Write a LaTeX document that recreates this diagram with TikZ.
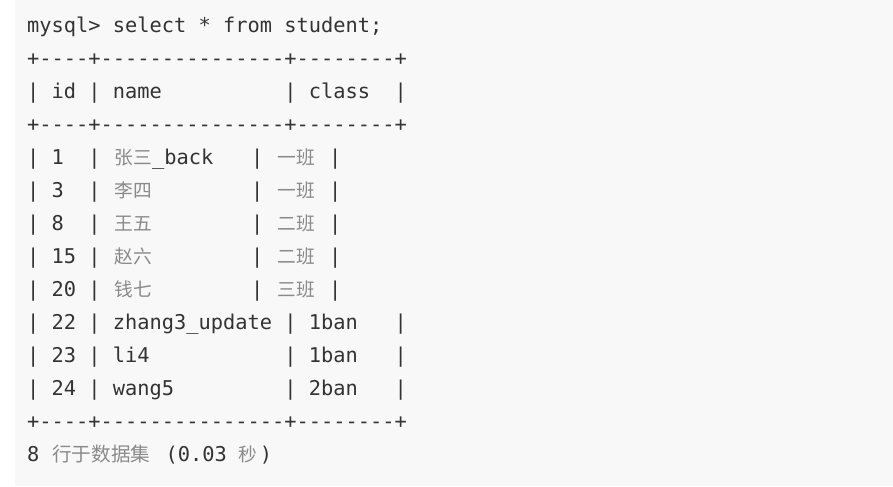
\documentclass[tikz,border=0pt]{standalone}
\usepackage{fontspec}
\setmonofont{DejaVu Sans Mono}
\newfontfamily\cjk{Noto Sans CJK SC}
\definecolor{panel}{HTML}{F8F8F8}
\definecolor{txt}{HTML}{333333}
\definecolor{han}{HTML}{8A8A8A}
\newcommand{\hz}{\cjk\fontsize{18.7}{22}\selectfont\color{han}}
\tikzset{
  mono/.style={anchor=base west, inner sep=0pt, text=txt, font=\ttfamily\fontsize{20.35}{24}\selectfont},
  hanzi/.style={anchor=base west, inner sep=0pt, font=\hz},
}
\begin{document}
\begin{tikzpicture}[x=12.25pt, y=-33pt]
        \useasboundingbox (-2.204,-0.970) rectangle (70.694,13.758);
        \fill[panel] (-0.980,-0.970) rectangle (70.694,13.758);
        \node[mono] (prompt) at (0,0) {mysql> select * from student;};
        \node[mono] (topline) at (0,1) {+----+---------------+--------+};
        \node[mono] (head) at (0,2) {|~id~|~name~~~~~~~~~~|~class~~|};
        \node[mono] (midline) at (0,3) {+----+---------------+--------+};
        \node[mono] (r1) at (0,4) {|~1~~|};
        \node[mono] (r1name) at (7.15,4) {{\hz 张三}\char95back};
        \node[mono] (r1bar) at (18.28,4) {|};
        \node[hanzi] (r1class) at (20.45,4) {一班};
        \node[mono] (r1end) at (24.65,4) {|};
        \node[mono] (r2) at (0,5) {|~3~~|};
        \node[hanzi] (r2name) at (7.15,5) {李四};
        \node[mono] (r2bar) at (18.28,5) {|};
        \node[hanzi] (r2class) at (20.45,5) {一班};
        \node[mono] (r2end) at (24.65,5) {|};
        \node[mono] (r3) at (0,6) {|~8~~|};
        \node[hanzi] (r3name) at (7.15,6) {王五};
        \node[mono] (r3bar) at (18.28,6) {|};
        \node[hanzi] (r3class) at (20.45,6) {二班};
        \node[mono] (r3end) at (24.65,6) {|};
        \node[mono] (r4) at (0,7) {|~15~|};
        \node[hanzi] (r4name) at (7.15,7) {赵六};
        \node[mono] (r4bar) at (18.28,7) {|};
        \node[hanzi] (r4class) at (20.45,7) {二班};
        \node[mono] (r4end) at (24.65,7) {|};
        \node[mono] (r5) at (0,8) {|~20~|};
        \node[hanzi] (r5name) at (7.15,8) {钱七};
        \node[mono] (r5bar) at (18.28,8) {|};
        \node[hanzi] (r5class) at (20.45,8) {三班};
        \node[mono] (r5end) at (24.65,8) {|};
        \node[mono] (r6) at (0,9) {|~22~|~zhang3\char95update~|~1ban~~~|};
        \node[mono] (r7) at (0,10) {|~23~|~li4~~~~~~~~~~~|~1ban~~~|};
        \node[mono] (r8) at (0,11) {|~24~|~wang5~~~~~~~~~|~2ban~~~|};
        \node[mono] (botline) at (0,12) {+----+---------------+--------+};
        \node[mono] (count) at (0,13) {8};
        \node[hanzi] (countlabel) at (2.05,13) {\fontsize{19.6}{22}\selectfont 行于数据集};
        \node[mono] (time) at (11.3,13) {(0.03};
        \node[hanzi] (unit) at (17.25,13) {秒};
        \node[mono] (close) at (19.0,13) {)};
\end{tikzpicture}
\end{document}
